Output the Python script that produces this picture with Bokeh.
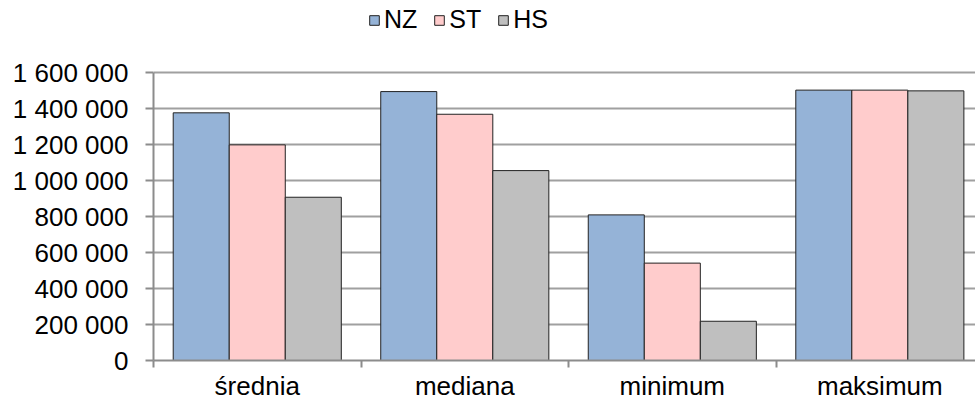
from bokeh.plotting import figure
from bokeh.models import FixedTicker, Range1d, Legend, LegendItem, ColumnDataSource
from bokeh.embed import file_html
from bokeh.resources import INLINE

categories = ["średnia", "mediana", "minimum", "maksimum"]
series = ["NZ", "ST", "HS"]
nz = [1376000, 1494000, 809000, 1502000]
st = [1198000, 1368000, 541000, 1502000]
hs = [907000, 1055000, 218000, 1498000]
y_ticks = [0, 200000, 400000, 600000, 800000, 1000000, 1200000, 1400000, 1600000]
y_tick_labels = ["0", "200 000", "400 000", "600 000", "800 000",
                 "1 000 000", "1 200 000", "1 400 000", "1 600 000"]
colors = ["#95B3D7", "#FFCCCC", "#BFBFBF"]

FONT = "Liberation Sans"

p = figure(width=975, height=404, output_backend="svg", toolbar_location=None,
           x_range=Range1d(0, 3.961), y_range=Range1d(0, 2000000),
           min_border_left=153, min_border_right=0, min_border_top=0,
           min_border_bottom=44)
p.outline_line_color = None
p.background_fill_color = "white"

bar_w = 0.27
offsets = [-bar_w, 0.0, bar_w]
renderers = []
for vals, off, col in zip([nz, st, hs], offsets, colors):
    src = ColumnDataSource(dict(x=[i + 0.5 + off for i in range(len(categories))], top=vals))
    r = p.vbar(x="x", top="top", width=bar_w, source=src, fill_color=col,
               line_color="#222222", line_width=1)
    renderers.append(r)

# x axis
p.xaxis.ticker = FixedTicker(ticks=[i + 0.5 for i in range(len(categories))],
                             minor_ticks=list(range(len(categories) + 1)))
p.xaxis.major_label_overrides = {i + 0.5: c for i, c in enumerate(categories)}
p.xaxis.major_tick_line_color = None
p.xaxis.minor_tick_out = 7
p.xaxis.minor_tick_in = 0
p.xaxis.minor_tick_line_color = "#8C8C8C"
p.xaxis.minor_tick_line_width = 2
p.xaxis.axis_line_color = "#8C8C8C"
p.xaxis.axis_line_width = 2
p.xaxis.major_label_text_font = FONT
p.xaxis.major_label_text_font_size = "26px"
p.xaxis.major_label_text_color = "black"
p.xaxis.major_label_standoff = 3
p.xgrid.visible = False

# y axis
p.yaxis.ticker = FixedTicker(ticks=y_ticks)
p.yaxis.bounds = (y_ticks[0], y_ticks[-1])
p.yaxis.major_label_overrides = {t: l for t, l in zip(y_ticks, y_tick_labels)}
p.yaxis.minor_tick_line_color = None
p.yaxis.major_tick_out = 8
p.yaxis.major_tick_in = 0
p.yaxis.major_tick_line_color = "#8C8C8C"
p.yaxis.major_tick_line_width = 2
p.yaxis.axis_line_color = "#8C8C8C"
p.yaxis.axis_line_width = 2
p.yaxis.major_label_text_font = FONT
p.yaxis.major_label_text_font_size = "26px"
p.yaxis.major_label_text_color = "black"
p.yaxis.major_label_standoff = 17
p.ygrid.ticker = FixedTicker(ticks=y_ticks)
p.ygrid.grid_line_color = "#A0A0A0"
p.ygrid.grid_line_width = 2

legend = Legend(items=[LegendItem(label=s, renderers=[r]) for s, r in zip(series, renderers)],
                orientation="horizontal", location=(215, 326))
legend.border_line_color = None
legend.background_fill_alpha = 0
legend.label_text_font = FONT
legend.label_text_font_size = "25px"
legend.label_text_color = "black"
legend.glyph_width = 12
legend.glyph_height = 12
legend.label_standoff = 4
legend.spacing = 16
legend.padding = 0
legend.margin = 0
p.add_layout(legend, "center")

open("out.html", "w").write(file_html(p, INLINE))
